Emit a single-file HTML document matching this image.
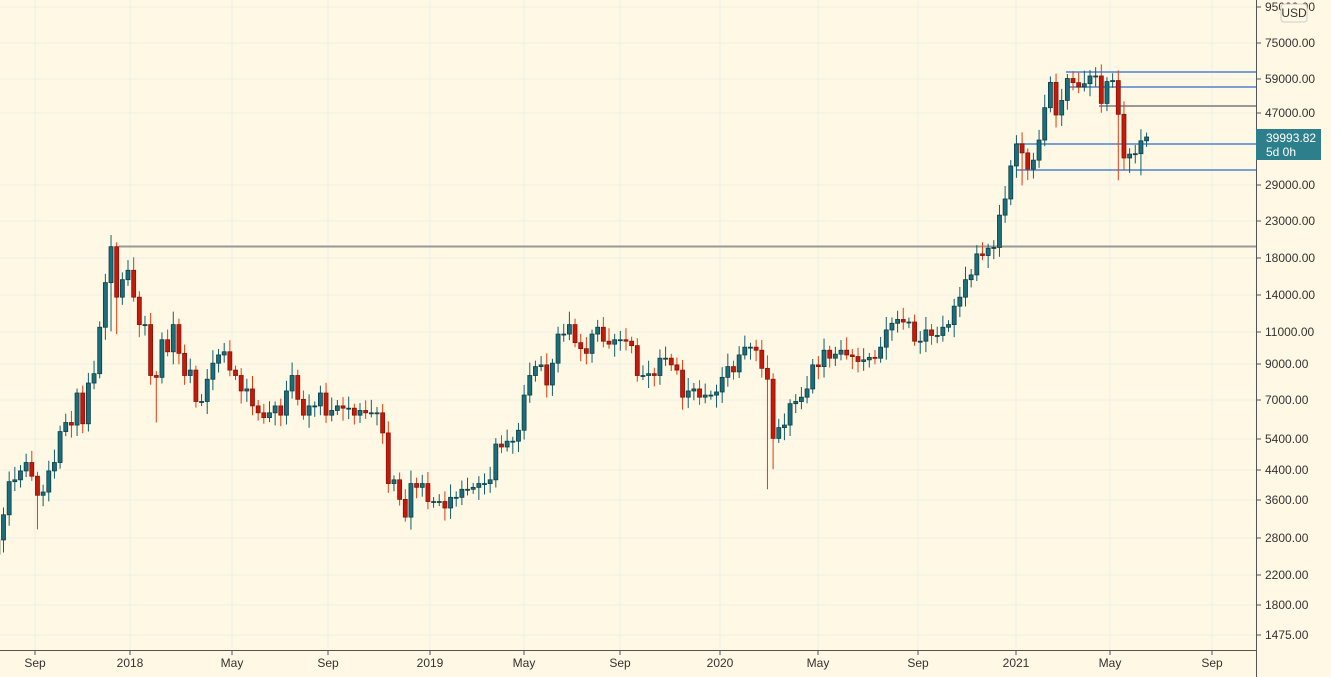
<!DOCTYPE html>
<html><head><meta charset="utf-8"><style>
body{margin:0;background:#fff8e4;}
svg{display:block;font-family:"Liberation Sans",sans-serif;}
</style></head><body>
<svg id="c" width="1331" height="677" xmlns="http://www.w3.org/2000/svg">
<rect width="1331" height="677" fill="#fff8e4"/>
<g id="grid"></g>
<g id="lines"></g>
<g id="cand"></g>
<g id="axis"></g>
</svg>
<script>
const NS="http://www.w3.org/2000/svg";
function el(p,t,a,txt){const e=document.createElementNS(NS,t);for(const k in a)e.setAttribute(k,a[k]);if(txt!=null)e.textContent=txt;document.getElementById(p).appendChild(e);return e;}
const Y=p=>295-150.5*Math.log(p/14000);
const base=Date.UTC(2018,0,1);
const X=d=>130+((d-base)/86400000)*0.8084;
const ylabels=[[95000,"95000.00"],[75000,"75000.00"],[59000,"59000.00"],[47000,"47000.00"],[29000,"29000.00"],[23000,"23000.00"],[18000,"18000.00"],[14000,"14000.00"],[11000,"11000.00"],[9000,"9000.00"],[7000,"7000.00"],[5400,"5400.00"],[4400,"4400.00"],[3600,"3600.00"],[2800,"2800.00"],[2200,"2200.00"],[1800,"1800.00"],[1475,"1475.00"]];
const yl=[7,43,79,113,185,221,258,295,332,364,400,439,470,500,538,575,605,635];
ylabels.forEach((l,i)=>{el("grid","line",{x1:0,x2:1256,y1:yl[i],y2:yl[i],stroke:"#ecefe6","stroke-width":1});});
const xl=[[35,"Sep"],[130,"2018"],[232,"May"],[328,"Sep"],[430,"2019"],[524,"May"],[620,"Sep"],[720,"2020"],[818,"May"],[918,"Sep"],[1016,"2021"],[1110,"May"],[1212,"Sep"]];
xl.forEach(l=>el("grid","line",{x1:l[0],x2:l[0],y1:0,y2:650,stroke:"#ecefe6","stroke-width":1}));
el("lines","line",{x1:119,x2:1256,y1:246.5,y2:246.5,stroke:"#999","stroke-width":2});
el("lines","line",{x1:1066,x2:1256,y1:72,y2:72,stroke:"#7a9fd6","stroke-width":2});
el("lines","line",{x1:1066,x2:1256,y1:87,y2:87,stroke:"#7a9fd6","stroke-width":2});
el("lines","line",{x1:1099,x2:1256,y1:106,y2:106,stroke:"#999","stroke-width":2});
el("lines","line",{x1:1016,x2:1256,y1:144,y2:144,stroke:"#7a9fd6","stroke-width":2});
el("lines","line",{x1:1016,x2:1256,y1:170,y2:170,stroke:"#7a9fd6","stroke-width":2});
const closes=[2750,3250,4050,4100,4350,4600,4200,3700,3780,4350,4600,5650,6000,5900,7300,5950,7800,8300,11300,15200,19300,13800,15500,16500,13800,11500,11500,8200,8100,10400,9600,11500,9500,8200,8500,6900,6900,8000,8900,9400,9600,8500,8200,7400,7500,6700,6400,6200,6400,6700,6300,7400,8200,7000,6300,6700,6700,7300,6300,6500,6700,6600,6600,6300,6500,6400,6400,6400,5600,4000,4100,3600,3200,4000,3900,4000,3550,3550,3550,3400,3650,3650,3850,3850,3900,4000,4000,4100,5200,5100,5300,5300,5700,7200,8200,8700,8800,7700,8900,10800,10800,11500,10200,9800,9500,10800,11300,10300,10100,10400,10400,10300,10000,8200,8200,8300,8200,9200,9200,8800,8500,7100,7400,7500,7100,7200,7200,7350,8100,8700,8400,9400,9900,9900,9700,8600,8000,5400,5800,5900,6800,6900,7100,7500,8800,8700,9700,9200,9450,9700,9400,9300,9000,9100,9250,9200,9900,11100,11600,11900,11700,11700,10300,10300,11100,10700,10700,11300,11500,13000,13800,15500,16000,18400,18200,19100,19200,23800,26500,33000,38200,36000,32300,34300,39200,48600,57500,46300,51000,59000,57400,55800,57000,60000,60000,50000,57800,58200,46500,34800,35700,35800,39000,40000];
const lows={7:2950,20:11000,21:10800,28:6000,136:3850,137:4400,180:30500,181:29000,198:30000,200:31500,202:31000};
const start=Date.UTC(2017,6,24);
let prev=2500;
closes.forEach((c,i)=>{
 const o=prev; prev=c;
 const x=X(start+i*7*86400000)-2;
 const up=c>=o;
 const hi=Math.max(o,c)*(1.03+((i*37)%7)/100);
 const lo=lows[i]||Math.min(o,c)*(0.97-((i*53)%6)/100);
 const fill=up?"#1b6f7c":"#c41a0a";
 el("cand","line",{x1:x,x2:x,y1:Y(hi),y2:Y(lo),stroke:up?"#0e5f6b":"#e03a10","stroke-width":1});
 const y1=Y(Math.max(o,c)),y2=Y(Math.min(o,c));
 el("cand","rect",{x:x-2,y:y1,width:4,height:Math.max(1,y2-y1),fill:fill,stroke:up?"#0b3f48":"#8a1208","stroke-width":0.8});
});
el("axis","rect",{x:1256,y:0,width:75,height:677,fill:"#fff8e4"});
el("axis","rect",{x:0,y:650,width:1256,height:27,fill:"#fff8e4"});
el("axis","line",{x1:1256.5,x2:1256.5,y1:0,y2:677,stroke:"#555"});
el("axis","line",{x1:0,x2:1256,y1:650.5,y2:650.5,stroke:"#555"});
ylabels.forEach((l,i)=>{el("axis","line",{x1:1256,x2:1261,y1:yl[i],y2:yl[i],stroke:"#555"});el("axis","text",{x:1265,y:yl[i]+4,"font-size":12,fill:"#333"},l[1]);});
xl.forEach(l=>{el("axis","line",{x1:l[0],x2:l[0],y1:650,y2:655,stroke:"#555"});el("axis","text",{x:l[0],y:667,"font-size":12,fill:"#333","text-anchor":"middle"},l[1]);});
el("axis","rect",{x:1281,y:4,width:26,height:18,rx:3,fill:"#fff8e4",stroke:"#ccc"});
el("axis","text",{x:1294,y:17,"font-size":12,fill:"#333","text-anchor":"middle"},"USD");
el("axis","rect",{x:1256,y:129,width:65,height:31,fill:"#2e7f8c"});
el("axis","text",{x:1266,y:142,"font-size":12,fill:"#fff"},"39993.82");
el("axis","text",{x:1266,y:156,"font-size":12,fill:"#fff"},"5d 0h");
</script>
</body></html>
